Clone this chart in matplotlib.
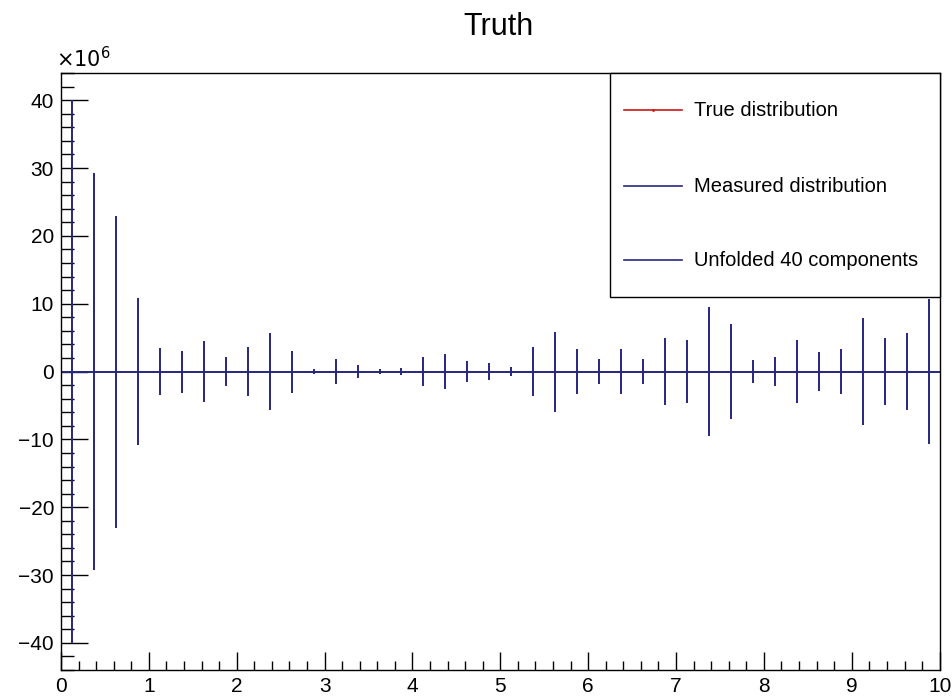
import numpy as np
import matplotlib
matplotlib.use('Agg')
import matplotlib.pyplot as plt
from matplotlib.lines import Line2D
from matplotlib.patches import Rectangle
from matplotlib.ticker import MultipleLocator

# === Data (units of 1e6) ===
bin_edges = np.linspace(0, 10, 41)
bin_centers = 0.5 * (bin_edges[:-1] + bin_edges[1:])
unfolded = np.zeros(40)
unfolded_err = [40.0, 29.3, 23.0, 10.9, 3.4, 3.1, 4.5, 2.2, 3.6, 5.7,
                3.1, 0.4, 1.9, 1.0, 0.35, 0.55, 2.15, 2.6, 1.5, 1.25,
                0.6, 3.55, 5.9, 3.3, 1.9, 3.3, 1.9, 5.0, 4.7, 9.55,
                7.0, 1.75, 2.1, 4.7, 2.9, 3.35, 7.95, 4.95, 5.7, 10.7]
legend_labels = ['True distribution', 'Measured distribution', 'Unfolded 40 components']

BLUE = '#262680'
RED = '#d01515'
FONT = 'Liberation Sans'

plt.rcParams['font.family'] = [FONT, 'DejaVu Sans']

fig = plt.figure(figsize=(9.53, 6.97), dpi=100)
ax = fig.add_axes([0.064, 0.0387, 0.922, 0.8565])

half_w = np.diff(bin_edges) / 2
ax.errorbar(bin_centers, unfolded, yerr=unfolded_err, xerr=half_w,
            fmt='none', ecolor=BLUE, elinewidth=1.4, capsize=0)

ax.set_xlim(0, 10)
ax.set_ylim(-44, 44)

# ROOT-like ticks
ax.xaxis.set_major_locator(MultipleLocator(1))
ax.xaxis.set_minor_locator(MultipleLocator(0.2))
ax.yaxis.set_major_locator(MultipleLocator(10))
ax.yaxis.set_minor_locator(MultipleLocator(2))
ax.tick_params(axis='both', which='both', direction='in', top=False, right=False,
               labelsize=15, width=1.0, color='black')
ax.tick_params(axis='y', which='major', length=19.5, pad=5)
ax.tick_params(axis='y', which='minor', length=9.5)
ax.tick_params(axis='x', which='major', length=13, pad=5)
ax.tick_params(axis='x', which='minor', length=6.5)
for s in ax.spines.values():
    s.set_linewidth(1.0)

ax.text(-0.006, 1.003, r'$\times10^{6}$', transform=ax.transAxes,
        ha='left', va='bottom', fontsize=15)

fig.text(0.5236, 1 - 35 / 697, 'Truth', ha='center', va='baseline', fontsize=22)

# === Legend (ROOT TLegend style box) ===
ax.add_patch(Rectangle((0.6246, 0.6248), 1.0 - 0.6246, 1.0 - 0.6248,
                       transform=ax.transAxes, facecolor='white',
                       edgecolor='black', lw=1.0, zorder=5, clip_on=False))
leg_colors = [RED, BLUE, BLUE]
leg_rows = [0.938, 0.8107, 0.6868]
for lab, col, yy in zip(legend_labels, leg_colors, leg_rows):
    ax.add_line(Line2D([0.6405, 0.7065], [yy, yy], transform=ax.transAxes,
                       color=col, lw=1.2, zorder=6))
    ax.text(0.7201, yy, lab, transform=ax.transAxes, ha='left', va='center',
            fontsize=14.5, zorder=6)
ax.plot([0.6735], [leg_rows[0]], marker='.', markersize=2, color=RED,
        transform=ax.transAxes, zorder=7)

fig.savefig('out.png', dpi=100, facecolor='white')
